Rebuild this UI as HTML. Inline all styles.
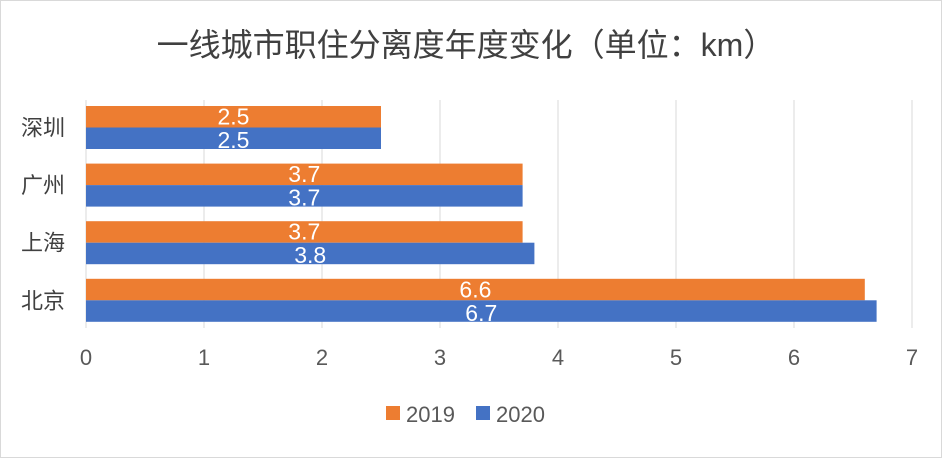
<!DOCTYPE html>
<html><head><meta charset="utf-8"><style>
body{margin:0;background:#fff;}
svg{display:block;font-family:"Liberation Sans","Noto Sans CJK SC",sans-serif;}
</style></head><body>
<svg id="c" width="942" height="458">
<rect x="0.5" y="0.5" width="941" height="457" fill="#fff" stroke="#d9d9d9"/>
<text x="466" y="56" text-anchor="middle" font-size="32" fill="#404040">一线城市职住分离度年度变化（单位：km）</text>
<g id="grid"></g><g id="bars"></g><g id="labels"></g>
<g>
<rect x="386" y="406" width="14" height="14" fill="#ED7D31"/>
<text x="406" y="422" font-size="22" fill="#595959">2019</text>
<rect x="476" y="406" width="14" height="14" fill="#4472C4"/>
<text x="496" y="422" font-size="22" fill="#595959">2020</text>
</g>
</svg>
<script>
const categories=["深圳","广州","上海","北京"];
const values2019=[2.5,3.7,3.7,6.6];
const values2020=[2.5,3.7,3.8,6.7];
const ticks=[0,1,2,3,4,5,6,7];
const NS="http://www.w3.org/2000/svg";
const x=v=>86+v*118;
const bandTop=i=>106+i*57.6;
const BH=21.5;
function mk(tag,attrs,parent,text){const e=document.createElementNS(NS,tag);for(const k in attrs)e.setAttribute(k,attrs[k]);if(text!==undefined)e.textContent=text;document.getElementById(parent).appendChild(e);return e;}
ticks.forEach(t=>{
 const l=mk('line',{x1:x(t),x2:x(t),y1:100,y2:328,stroke:'#d9d9d9','stroke-width':1},'grid');
 
 
 const tx=mk('text',{x:x(t),y:365,'text-anchor':'middle','font-size':22,fill:'#595959'},'grid',String(t));
 
 
});
categories.forEach((c,i)=>{
 const y0=bandTop(i);
 const cl=mk('text',{x:43,y:y0+BH+8,'text-anchor':'middle','font-size':22,fill:'#404040'},'labels',c);
 
 
 [[values2019,'#ED7D31',0],[values2020,'#4472C4',1]].forEach(([arr,col,k])=>{
  const v=arr[i];const yy=y0+k*BH;
  const r=mk('rect',{x:x(0),y:yy,width:x(v)-x(0),height:BH,fill:col},'bars');
  
  
  const t=mk('text',{x:(x(0)+x(v))/2,y:yy+BH-1+(k?0:-2),'text-anchor':'middle','font-size':23,fill:'#fff'},'labels',String(v));
  
  
 });
});
</script>
</body></html>
